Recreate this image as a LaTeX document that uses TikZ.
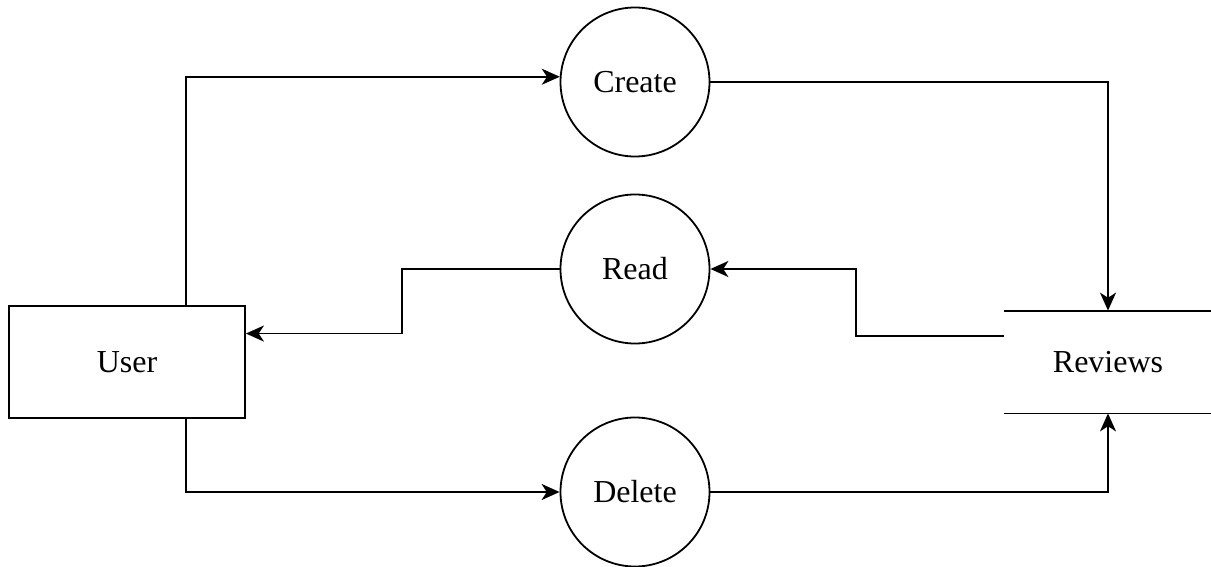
\documentclass[tikz,border=0pt]{standalone}
\usepackage{fontspec}
\setmainfont{Liberation Serif}
\usepackage{tikz}
\usetikzlibrary{arrows.meta,positioning,calc}

\begin{document}
\begin{tikzpicture}[
    >={Stealth[length=9pt,width=8pt,inset=2.6pt]},
    x=0.5pt, y=-0.5pt,
    line width=0.9pt,
    every node/.style={font=\fontsize{16}{19}\selectfont},
    entity/.style={draw,rectangle,minimum width=118pt,minimum height=56pt,inner sep=0pt},
    process/.style={draw,circle,minimum size=74.5pt,inner sep=0pt},
    store/.style={rectangle,minimum width=103pt,minimum height=50.5pt,inner sep=0pt},
    flow/.style={->},
  ]
  \useasboundingbox (0,0) rectangle (1211,567);

  % external entity, processes and data store
  \node[entity]  (user)    at (127,362)  {User};
  \node[process] (create)  at (635,82)   {Create};
  \node[process] (read)    at (635,269)  {Read};
  \node[process] (delete)  at (635,492)  {Delete};
  \node[store]   (reviews) at (1108,362) {Reviews};
  \draw (reviews.north west) -- (reviews.north east);
  \draw (reviews.south west) -- (reviews.south east);

  % ports on the box sides
  \coordinate (uout) at ($(user.north)+(59,0)$);
  \coordinate (udel) at ($(user.south)+(59,0)$);
  \coordinate (uin)  at ($(user.north east)!0.25!(user.south east)$);
  \coordinate (rout) at ($(reviews.north west)!0.25!(reviews.south west)$);

  % --- data flows ---
  \draw[flow] (uout) |- (create.176);
  \draw[flow] (create.east) -| (reviews.north);
  \draw[flow] (rout) -- ++(-148,0) |- (read.east);
  \draw[flow] (read.west) -- ++(-158,0) |- (uin);
  \draw[flow] (udel) |- (delete.west);
  \draw[flow] (delete.east) -| (reviews.south);

\end{tikzpicture}
\end{document}
